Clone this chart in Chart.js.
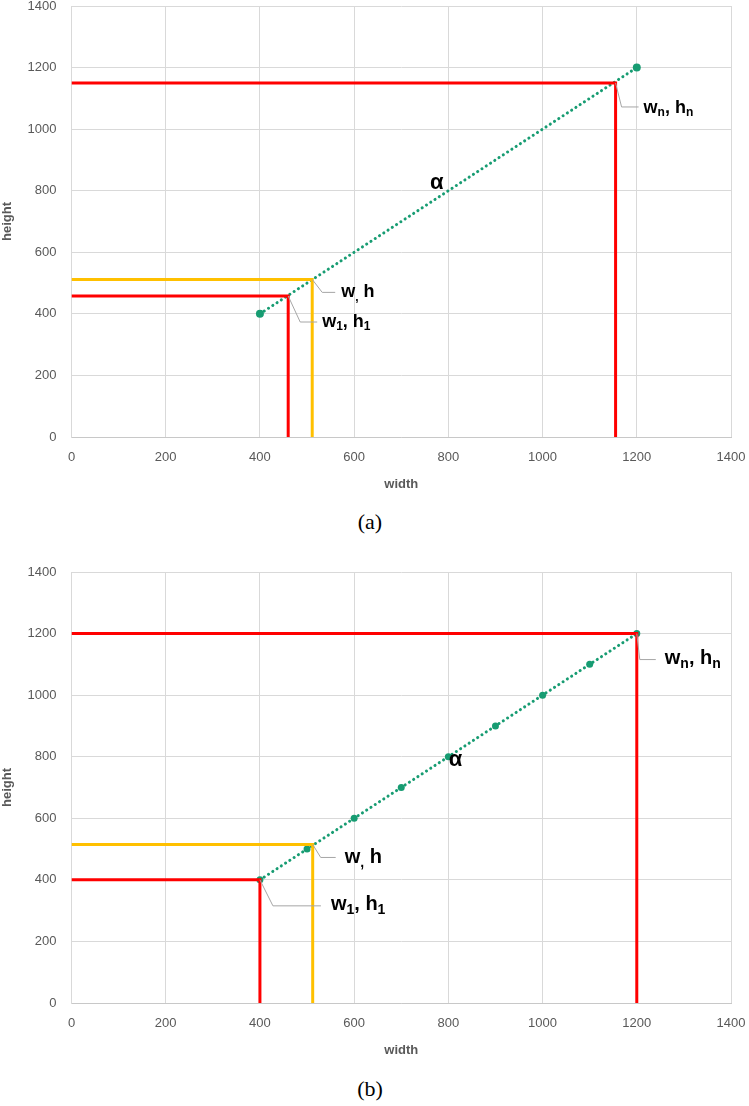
<!DOCTYPE html>
<html>
<head>
<meta charset="utf-8">
<script src="https://cdn.jsdelivr.net/npm/chart.js@4.4.1/dist/chart.umd.min.js"></script>
<style>
  html, body { margin: 0; padding: 0; background: #fff; }
  body { width: 749px; height: 1106px; position: relative; overflow: hidden; }
  .box { position: absolute; left: 0; width: 749px; height: 500px; }
  .cap { position: absolute; width: 100px; text-align: center; font-family: "Liberation Serif", "Times New Roman", serif; font-size: 22px; color: #000; line-height: 26px; }
</style>
</head>
<body>
<div class="box" style="top:0px"><canvas id="ca" width="749" height="500"></canvas></div>
<div class="box" style="top:566px"><canvas id="cb" width="749" height="500"></canvas></div>
<div class="cap" style="left:320px; top:509px">(a)</div>
<div class="cap" style="left:320px; top:1076px">(b)</div>
<script>
// ---- tick labels ----
const xTicks = [0, 200, 400, 600, 800, 1000, 1200, 1400];
const yTicks = [0, 200, 400, 600, 800, 1000, 1200, 1400];

// ---- chart (a) ----
const aGreenX = [400, 1200];
const aGreenY = [400, 1200];
const aRedLow = [460, 458];     // w1, h1
const aRedHigh = [1155, 1150];  // wn, hn
const aYellow = [511, 512];     // w, h

// ---- chart (b) ----
const bGreenX = [400, 500, 600, 700, 800, 900, 1000, 1100, 1200];
const bGreenY = [400, 500, 600, 700, 800, 900, 1000, 1100, 1200];
const bRedLow = [400, 400];
const bRedHigh = [1200, 1200];
const bYellow = [512, 515];

const GREEN = '#179c72';
const RED = '#ff0000';
const YELLOW = '#ffc000';
const GRID = '#d9d9d9';
const TXT = '#595959';

function corner(c) {
  return [{x: 0, y: c[1]}, {x: c[0], y: c[1]}, {x: c[0], y: 0}];
}
function pts(xs, ys) { return xs.map((x, i) => ({x: x, y: ys[i]})); }

function cornerDs(c, color) {
  return {
    data: corner(c), borderColor: color, borderWidth: 3, pointRadius: 0,
    borderJoinStyle: 'miter', borderCapStyle: 'butt', tension: 0, showLine: true, fill: false
  };
}

const labelPlugin = {
  id: 'labels',
  afterDatasetsDraw(chart, args, opts) {
    const ctx = chart.ctx;
    const xs = chart.scales.x, ys = chart.scales.y;
    ctx.save();
    (opts.items || []).forEach(it => {
      const px = xs.getPixelForValue(it.at[0]);
      const py = ys.getPixelForValue(it.at[1]);
      if (it.leader) {
        ctx.strokeStyle = '#a6a6a6';
        ctx.lineWidth = 1;
        ctx.beginPath();
        ctx.moveTo(px, py);
        ctx.lineTo(px + it.leader[0], py + it.leader[1]);
        ctx.lineTo(px + it.leader[2], py + it.leader[1]);
        ctx.stroke();
      }
      let x = px + it.off[0];
      const y = py + it.off[1];
      ctx.fillStyle = '#000';
      ctx.textBaseline = 'middle';
      ctx.textAlign = 'left';
      it.parts.forEach(p => {
        const size = p.sub ? Math.round(it.size * 0.68) : it.size;
        ctx.font = 'bold ' + size + 'px "Liberation Sans", Arial, sans-serif';
        const yy = p.sub ? y + it.size * 0.28 : y;
        ctx.fillText(p.t, x, yy);
        x += ctx.measureText(p.t).width;
      });
    });
    ctx.restore();
  }
};

const FONT = '"Liberation Sans", Arial, sans-serif';

function makeOptions(items) {
  return {
    responsive: false,
    animation: false,
    layout: { padding: { left: 0, right: 18, top: 6, bottom: 0 } },
    plugins: { legend: { display: false }, tooltip: { enabled: false }, labels: { items: items } },
    scales: {
      x: {
        type: 'linear', min: 0, max: 1400,
        afterBuildTicks: s => { s.ticks = xTicks.map(v => ({value: v})); },
        afterFit: s => { s.height = 63; s.paddingLeft = 0; s.paddingRight = 0; },
        grid: { color: GRID, lineWidth: 1, drawTicks: false },
        border: { color: '#c8c8c8', width: 1 },
        ticks: { color: TXT, padding: 13, autoSkip: false, maxRotation: 0,
                 callback: v => String(v), font: { family: FONT, size: 13 } },
        title: { display: true, text: 'width', color: TXT, padding: { top: 0, bottom: 8 },
                 font: { family: FONT, size: 13, weight: 'bold' } }
      },
      y: {
        type: 'linear', min: 0, max: 1400,
        afterBuildTicks: s => { s.ticks = yTicks.map(v => ({value: v})); },
        afterFit: s => { s.width = 71.5; s.paddingTop = 0; s.paddingBottom = 0; },
        grid: { color: GRID, lineWidth: 1, drawTicks: false },
        border: { color: GRID, width: 1 },
        ticks: { color: TXT, padding: 15, autoSkip: false,
                 callback: v => String(v), font: { family: FONT, size: 13 } },
        title: { display: true, text: 'height', color: TXT, padding: 0,
                 font: { family: FONT, size: 13, weight: 'bold' } }
      }
    }
  };
}

function greenDs(xs, ys, radii) {
  return {
    data: pts(xs, ys), borderColor: GREEN, backgroundColor: GREEN, borderWidth: 3,
    borderDash: [0.1, 5], borderCapStyle: 'round', pointRadius: radii, pointBorderWidth: 0,
    pointBackgroundColor: GREEN, showLine: true, fill: false, tension: 0
  };
}

const alphaA = [780, 826];
const alphaB = [820, 788];

new Chart(document.getElementById('ca'), {
  type: 'scatter',
  data: { datasets: [
    cornerDs(aRedHigh, RED), cornerDs(aRedLow, RED), cornerDs(aYellow, YELLOW),
    greenDs(aGreenX, aGreenY, 4)
  ]},
  options: makeOptions([
    { at: aRedHigh, leader: [6, 24, 23], off: [28, 25], size: 18,
      parts: [{t:'w'},{t:'n',sub:true},{t:', h'},{t:'n',sub:true}] },
    { at: aYellow, leader: [10, 13, 23], off: [29, 13], size: 18,
      parts: [{t:'w'},{t:',',sub:true},{t:' h'}] },
    { at: aRedLow, leader: [12, 26, 29], off: [34, 26], size: 18,
      parts: [{t:'w'},{t:'1',sub:true},{t:', h'},{t:'1',sub:true}] },
    { at: alphaA, off: [-9, 0], size: 22, parts: [{t:'α'}] }
  ]),
  plugins: [labelPlugin]
});

new Chart(document.getElementById('cb'), {
  type: 'scatter',
  data: { datasets: [
    cornerDs(bRedHigh, RED), cornerDs(bRedLow, RED), cornerDs(bYellow, YELLOW),
    greenDs(bGreenX, bGreenY, 3.5)
  ]},
  options: makeOptions([
    { at: bRedHigh, leader: [3, 26, 19], off: [28, 25], size: 20,
      parts: [{t:'w'},{t:'n',sub:true},{t:', h'},{t:'n',sub:true}] },
    { at: bYellow, leader: [8, 13, 23], off: [32, 13], size: 20,
      parts: [{t:'w'},{t:',',sub:true},{t:' h'}] },
    { at: bRedLow, leader: [13, 26, 61], off: [71, 25], size: 20,
      parts: [{t:'w'},{t:'1',sub:true},{t:', h'},{t:'1',sub:true}] },
    { at: alphaB, off: [-9, 0], size: 22, parts: [{t:'α'}] }
  ]),
  plugins: [labelPlugin]
});
</script>
</body>
</html>
